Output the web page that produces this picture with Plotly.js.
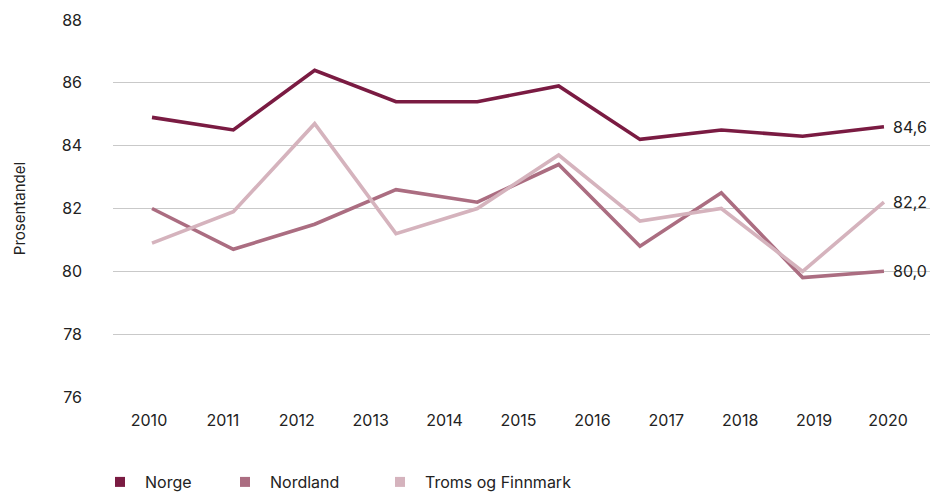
<!DOCTYPE html>
<html>
<head>
<meta charset="utf-8">
<script src="https://cdn.plot.ly/plotly-3.0.1.min.js"></script>
<style>
  html, body { margin: 0; padding: 0; background: #fff; }
  #chart { width: 930px; height: 493px; }
</style>
</head>
<body>
<div id="chart"></div>
<script>
// Axis tick labels (categories)
const years = ["2010","2011","2012","2013","2014","2015","2016","2017","2018","2019","2020"];
// Observation index for the plotted series (10 points per series)
const pointIndex = [0,1,2,3,4,5,6,7,8,9];
// Series values (Prosentandel)
const norge = [84.9, 84.5, 86.4, 85.4, 85.4, 85.9, 84.2, 84.5, 84.3, 84.6];
const nordland = [82.0, 80.7, 81.5, 82.6, 82.2, 83.4, 80.8, 82.5, 79.8, 80.0];
const tromsFinnmark = [80.9, 81.9, 84.7, 81.2, 82.0, 83.7, 81.6, 82.0, 80.0, 82.2];

const seriesNames = ["Norge", "Nordland", "Troms og Finnmark"];
const seriesValues = [norge, nordland, tromsFinnmark];
const colors = ["#7a1b42", "#ab6d81", "#d5b3bd"];
const legendIds = ["legend", "legend2", "legend3"];

const FONT = "Inter, 'Noto Sans', sans-serif";
const TXT = "#222222";

const traces = [];
seriesValues.forEach((vals, i) => {
  traces.push({
    type: "scatter", mode: "lines",
    x: pointIndex, y: vals,
    xaxis: "x2", yaxis: "y",
    line: { color: colors[i], width: 3.6 },
    showlegend: false, hoverinfo: "skip"
  });
});
// legend entries (squares), attached to the category axis
seriesNames.forEach((n, i) => {
  traces.push({
    type: "scatter", mode: "markers",
    x: [null], y: [null], xaxis: "x", yaxis: "y",
    name: n, legend: legendIds[i],
    marker: { symbol: "square", size: 10, color: colors[i] },
    showlegend: true, hoverinfo: "skip"
  });
});

const annotations = seriesValues.map((vals, i) => ({
  xref: "x2", yref: "y",
  x: pointIndex[pointIndex.length - 1], y: vals[vals.length - 1],
  text: vals[vals.length - 1].toFixed(1).replace(".", ","),
  showarrow: false, xanchor: "left", yanchor: "middle", xshift: 7,
  font: { family: FONT, size: 16, color: TXT }
}));

function legendAt(px) {
  return {
    orientation: "h", xref: "container", yref: "container",
    x: px / 930, xanchor: "left", y: 1 - 482 / 493, yanchor: "middle",
    itemwidth: 40, bgcolor: "rgba(0,0,0,0)",
    font: { family: FONT, size: 16, color: TXT },
    itemclick: false, itemdoubleclick: false
  };
}

const layout = {
  width: 930, height: 493,
  margin: { l: 113, r: 0, t: 20, b: 96 },
  paper_bgcolor: "#ffffff", plot_bgcolor: "#ffffff",
  font: { family: FONT, size: 16, color: TXT },
  xaxis: {
    type: "linear",
    range: [-0.487, 10.568],
    tickmode: "array",
    tickvals: years.map((_, i) => i),
    ticktext: years,
    showgrid: false, zeroline: false, showline: false,
    ticks: "", ticklabelstandoff: 12,
    tickfont: { family: FONT, size: 16, color: TXT },
    fixedrange: true
  },
  xaxis2: {
    overlaying: "x", type: "linear",
    range: [-0.4795, 9.566],
    visible: false, fixedrange: true
  },
  yaxis: {
    range: [76, 88],
    tickvals: [76, 78, 80, 82, 84, 86, 88],
    showgrid: true, gridcolor: "#c9c9c9", gridwidth: 1,
    zeroline: false, showline: false, ticks: "",
    ticklabelstandoff: 30,
    tickfont: { family: FONT, size: 16, color: TXT },
    title: { text: "Prosentandel", font: { family: FONT, size: 15, color: TXT }, standoff: 32 },
    fixedrange: true
  },
  legend: legendAt(95),
  legend2: legendAt(220),
  legend3: legendAt(375),
  annotations: annotations,
  showlegend: true
};

Plotly.newPlot("chart", traces, layout, { displayModeBar: false, staticPlot: true });
</script>
</body>
</html>
